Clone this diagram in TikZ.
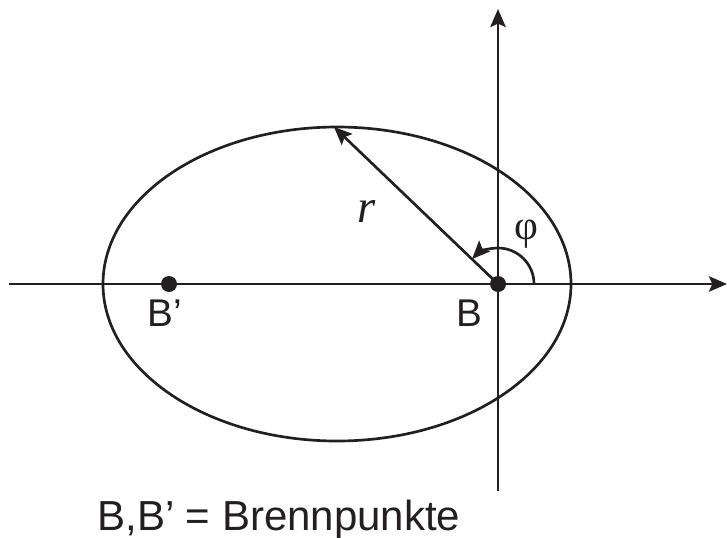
\documentclass[tikz,border=0pt]{standalone}
\usepackage{fontspec}
\setmainfont{Liberation Sans}
\newfontfamily\serifface{Liberation Serif}
\usetikzlibrary{arrows.meta,shapes.geometric}
\definecolor{ink}{RGB}{35,31,32}
\begin{document}
\begin{tikzpicture}[x=0.75pt,y=0.75pt,line width=2pt,color=ink,
  tip/.style={-{Stealth[length=13.5pt,width=11.5pt,inset=2.5pt]}},
  focus/.style={circle,fill=ink,inner sep=0pt,minimum size=12pt},
  lbl/.style={inner sep=0pt,text=ink,font=\fontsize{29}{31}\selectfont}]
\useasboundingbox (0,0) rectangle (727,537);
\coordinate (xl) at (9,253);
\coordinate (xr) at (727,253);
\coordinate (yb) at (498,46);
\coordinate (yt) at (498,528);
\coordinate (R) at (334,410);
\node[ellipse,draw=ink,inner sep=0pt,minimum width=351pt,minimum height=235.5pt] (E) at (337,253) {};
\draw[tip] (xl) -- (xr);
\draw[tip] (yb) -- (yt);
\node[focus] (B) at (498,253) {};
\node[focus] (Bp) at (169,253) {};
\draw[tip] (B.center) -- (R);
\draw[tip] ([shift={(0:27pt)}]B.center) arc[start angle=0,end angle=136,radius=27pt];
\node[lbl] (LB) at (469,224) {B};
\node[lbl,anchor=west] (LBp) at (146,224) {B’};
\node[inner sep=0pt,text=ink,font=\serifface\itshape\fontsize{35}{37}\selectfont] (Lr) at (367,325) {r};
\node[inner sep=0pt,text=ink,font=\serifface\fontsize{31}{33}\selectfont] (Lphi) at (526,303) {φ};
\node[inner sep=0pt,text=ink,anchor=base west,font=\fontsize{31.5}{33}\selectfont] (cap) at (96,7) {B,B’ = Brennpunkte};
\end{tikzpicture}
\end{document}
